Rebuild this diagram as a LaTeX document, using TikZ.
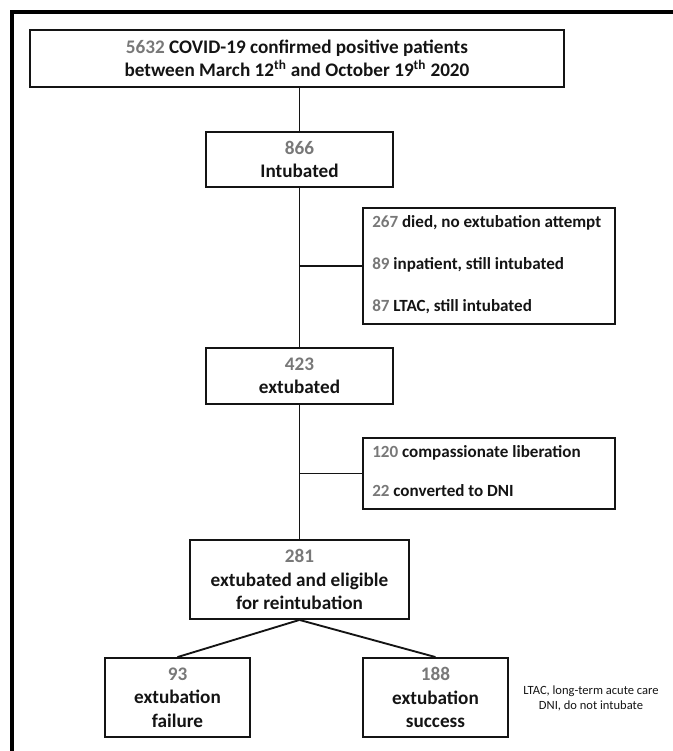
\documentclass[tikz,border=0pt]{standalone}
\usepackage{fontspec}
\setmainfont{Carlito}
\definecolor{numgray}{RGB}{120,120,120}
\definecolor{txt}{RGB}{20,20,20}
\newcommand\numg[1]{{\color{numgray}#1}}
\begin{document}
\begin{tikzpicture}[x=0.75pt,y=-0.75pt,
  box/.style 2 args={draw=txt, line width=1.4pt, rectangle, inner sep=0pt, align=center,
    minimum width=#1*0.75pt, minimum height=#2*0.75pt,
    font=\fontsize{14.4}{17.6}\selectfont\bfseries, text=txt},
  sidetext/.style={anchor=west, inner sep=0pt, font=\fontsize{12.8}{15}\selectfont\bfseries, text=txt},
  link/.style={draw=txt, line width=1.4pt}]
\useasboundingbox (0,0) rectangle (673,751);
% outer frame (cropped on right and bottom)
\draw[line width=2.4pt, black] (12,751) -- (12,12) -- (674,12);

\node[box={534}{57}] (top) at (297,58.5)
  {\numg{5632} COVID-19 confirmed positive patients\\ between March 12\textsuperscript{th} and October 19\textsuperscript{th} 2020};
\node[box={187}{55}] (n866) at (299.5,159.5) {\numg{866}\\ Intubated};
\node[box={252}{116}] (side1) at (489,266) {};
\node[sidetext] (s1a) at (372,223) {\numg{267} died, no extubation attempt};
\node[sidetext] (s1b) at (372,265) {\numg{89} inpatient, still intubated};
\node[sidetext] (s1c) at (372,307) {\numg{87} LTAC, still intubated};
\node[box={187}{56}] (n423) at (299.5,376) {\numg{423}\\ extubated};
\node[box={252}{71}] (side2) at (489,473.5) {};
\node[sidetext] (s2a) at (372,453) {\numg{120} compassionate liberation};
\node[sidetext] (s2b) at (372,491) {\numg{22} converted to DNI};
\node[box={219}{79}] (n281) at (299.5,579.5) {\numg{281}\\ extubated and eligible\\ for reintubation};
\node[box={145}{79}] (n93) at (177.5,697.5) {\numg{93}\\ extubation\\ failure};
\node[box={145}{79}] (n188) at (435.5,697.5) {\numg{188}\\ extubation\\ success};
\node[align=center, inner sep=0pt, font=\fontsize{9.4}{11.4}\selectfont, text=txt] (legend) at (591,698.5)
  {LTAC, long-term acute care\\ DNI, do not intubate};

\coordinate (j0) at (n866.north |- top.south);
\coordinate (j1) at (n866.south |- side1.west);
\coordinate (j2) at (n423.south |- side2.west);
\draw[link] (j0) -- (n866.north);
\draw[link] (n866.south) -- (n423.north);
\draw[link] (j1) -- (side1.west);
\draw[link] (n423.south) -- (n281.north);
\draw[link] (j2) -- (side2.west);
\draw[link] (n281.south) -- (n93.north);
\draw[link] (n281.south) -- (n188.north);
\end{tikzpicture}
\end{document}
